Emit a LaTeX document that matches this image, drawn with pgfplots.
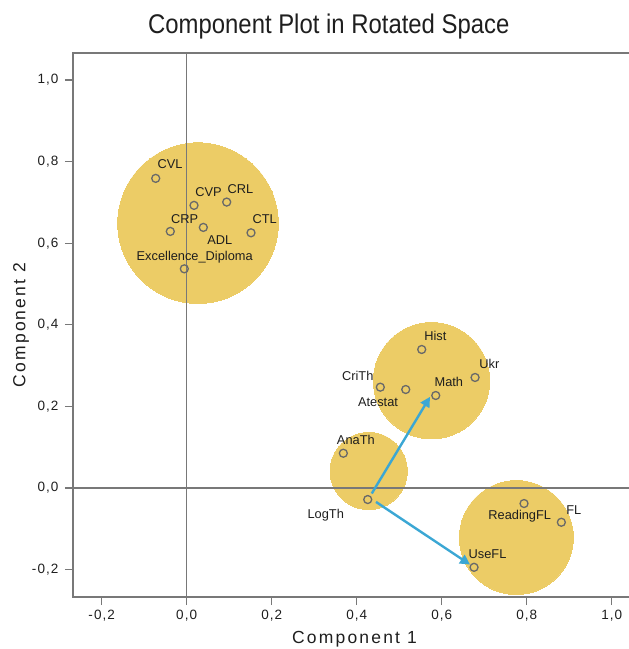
\documentclass[border=0pt]{standalone}
\usepackage{fontspec}
\setmainfont{Liberation Sans}
\newfontfamily\titlefont[FakeStretch=0.885]{Liberation Sans}
\newfontfamily\labfont[LetterSpace=12.5]{Liberation Sans}
\newfontfamily\tickfont[LetterSpace=8]{Liberation Sans}
\usepackage{pgfplots}
\pgfplotsset{compat=1.18}
\usetikzlibrary{arrows.meta}
\definecolor{circ}{RGB}{236,204,102}
\definecolor{arr}{RGB}{59,167,212}
\definecolor{frame}{RGB}{120,120,120}
\definecolor{mk}{RGB}{105,105,105}
\definecolor{txt}{RGB}{30,30,30}
\begin{document}
\begin{tikzpicture}
\useasboundingbox (-73pt,-52pt) rectangle (556pt,597pt);
\begin{axis}[
  at={(0pt,0pt)}, anchor=south west,
  scale only axis, width=563pt, height=544pt,
  xmin=-0.2675, xmax=1.057, ymin=-0.2672, ymax=1.0662,
  clip marker paths=true,
  axis line style={frame, line width=1.3pt},
  tick pos=left, tick align=outside, major tick length=8pt,
  tick style={frame, line width=1.2pt},
  xtick={-0.2,0,0.2,0.4,0.6,0.8,1},
  ytick={-0.2,0,0.2,0.4,0.6,0.8,1},
  xticklabels={{-0,2},{0,0},{0,2},{0,4},{0,6},{0,8},{1,0}},
  yticklabels={{-0,2},{0,0},{0,2},{0,4},{0,6},{0,8},{1,0}},
  ticklabel style={font=\tickfont\fontsize{13.5}{15}\selectfont, text=txt},
  yticklabel style={xshift=-3pt},
  xticklabel style={yshift=-2pt},
  every axis title shift=0pt,
  title={Component Plot in Rotated Space},
  title style={at={(axis description cs:0.4544,1.0539)}, anchor=center, inner sep=0pt,
    text height=19.3pt, text depth=0pt, font=\titlefont\fontsize{27}{30}\selectfont, text=txt},
  xlabel={Component 1},
  xlabel style={at={(axis description cs:0.5,-0.0735)}, anchor=center, inner sep=0pt,
    text height=12.5pt, text depth=0pt, font=\labfont\fontsize{17.5}{20}\selectfont, text=txt},
  ylabel={Component 2},
  ylabel style={at={(axis description cs:-0.0959,0.5)}, anchor=center, inner sep=0pt,
    text height=12.5pt, text depth=0pt, rotate=0, font=\labfont\fontsize{17.5}{20}\selectfont, text=txt},
]
% group circles
\addplot[circ, only marks, mark=*, mark size=80.3pt, mark options={fill=circ, draw=circ, line width=0pt}] coordinates {(0.0266,0.6491)};
\addplot[circ, only marks, mark=*, mark size=58.2pt, mark options={fill=circ, draw=circ, line width=0pt}] coordinates {(0.5760,0.2630)};
\addplot[circ, only marks, mark=*, mark size=38.6pt, mark options={fill=circ, draw=circ, line width=0pt}] coordinates {(0.4282,0.0416)};
\addplot[circ, only marks, mark=*, mark size=57pt, mark options={fill=circ, draw=circ, line width=0pt}] coordinates {(0.7755,-0.1215)};
% zero lines
\addplot[frame, line width=1.3pt, mark=none] coordinates {(-0.2675,0) (1.057,0)};
\addplot[frame, line width=1.3pt, mark=none] coordinates {(0,-0.2672) (0,1.0662)};
% arrows
\addplot[arr, line width=2.4pt, mark=none, -{Triangle[length=10pt,width=10pt]}] coordinates {(0.4353,-0.0136) (0.5724,0.2234)};
\addplot[arr, line width=2.4pt, mark=none, -{Triangle[length=10pt,width=10pt]}] coordinates {(0.4454,-0.0342) (0.6666,-0.1877)};
% loadings
\addplot[mk, only marks, mark=o, mark size=4pt, mark options={draw=mk, line width=1.3pt}] coordinates {
(-0.0729,0.7589) (0.0172,0.6927) (0.0941,0.7008) (-0.0386,0.6289) (0.0391,0.6387)
(0.1513,0.6255) (-0.0056,0.5372) (0.5529,0.3395) (0.6784,0.2709) (0.4555,0.2471)
(0.5153,0.2414) (0.5859,0.2267) (0.3685,0.0852) (0.4259,-0.0283) (0.7936,-0.0381)
(0.8814,-0.0840) (0.6760,-0.1944)};
% labels
\addplot[draw=none, mark=none, nodes near coords, point meta=explicit symbolic,
  nodes near coords style={anchor=center, inner sep=0pt, text height=9.2pt, text depth=0pt,
  font=\fontsize{12.8}{14}\selectfont, text=txt}] coordinates {
(-0.0393,0.7939) [CVL]
(0.0513,0.7261) [CVP]
(0.1266,0.7327) [CRL]
(-0.0047,0.6591) [CRP]
(0.0779,0.6093) [ADL]
(0.1835,0.6598) [CTL]
(0.0188,0.5684) [Excellence\_Diploma]
(0.5849,0.3739) [Hist]
(0.7120,0.3052) [Ukr]
(0.4024,0.2758) [CriTh]
(0.6167,0.2601) [Math]
(0.4501,0.2120) [Atestat]
(0.3979,0.1188) [AnaTh]
(0.3271,-0.0627) [LogTh]
(0.7835,-0.0651) [ReadingFL]
(0.9106,-0.0546) [FL]
(0.7078,-0.1617) [UseFL]
};
\end{axis}
\end{tikzpicture}
\end{document}
